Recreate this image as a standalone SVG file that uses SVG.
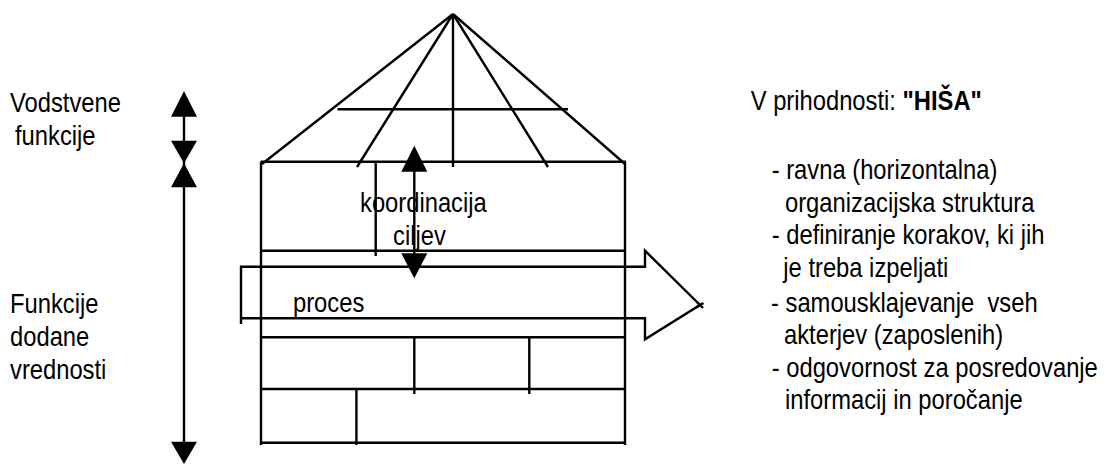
<svg xmlns="http://www.w3.org/2000/svg" width="1104" height="464" viewBox="0 0 1104 464">
<style>
.ln{fill:none;stroke:#000;stroke-width:2.4;stroke-linecap:butt;stroke-linejoin:miter}
.hd{fill:#000;stroke:none}
.t{font-family:"Liberation Sans",Arial,sans-serif;font-size:27px;fill:#000}
.b{font-weight:bold}
</style>
<rect width="1104" height="464" fill="#fff"/>
<g id="roof" class="ln">
<path d="M453,14 L262,164 M453,14 L357,167 M453,14 V167 M453,14 L548,167 M453,14 L625,164"/>
<path d="M337.5,109.3 H568"/>
</g>
<g id="building" class="ln">
<path d="M260.7,161.7 H626"/>
<path d="M261,161.7 V445 M625,161.7 V445"/>
<path d="M261,250.7 H625 M261,337.3 H625 M261,389 H625 M261,442.7 H625"/>
<path d="M375.7,161.7 V256 M414.3,337.3 V394 M529.3,337.3 V394 M356.4,389 V445"/>
</g>
<g id="process-arrow" class="ln">
<path d="M241,324 V266.7 H645 V250.7 L700,305 L645,339.3 V318.3 H241"/>
<path d="M697,302 L703,308 M696,307.5 L703.4,302.9" stroke-linejoin="round"/>
</g>
<g id="connectors">
<g id="left-arrow">
<path class="ln" d="M184,100 V455"/>
<path class="hd" d="M184,91 L197,116.7 L171,116.7 Z"/>
<path class="hd" d="M171,140.7 L197,140.7 L184,163.3 Z"/>
<path class="hd" d="M184,163.3 L197,187.3 L171,187.3 Z"/>
<path class="hd" d="M171,441.7 L197,441.7 L184,464 Z"/>
</g>
<g id="coordination-arrow">
<path class="ln" d="M414.3,160 V265"/>
<path class="hd" d="M414.3,145.7 L427.3,171.7 L401.3,171.7 Z"/>
<path class="hd" d="M401.3,253.3 L427.3,253.3 L414.3,278.3 Z"/>
</g>
</g>
<g id="labels-left">
<g id="vodstvene"><text class="t" transform="translate(10,112) scale(0.88,1)">Vodstvene</text><text class="t" transform="translate(15,144.5) scale(0.88,1)">funkcije</text></g>
<g id="funkcije"><text class="t" transform="translate(10,313) scale(0.88,1)">Funkcije</text><text class="t" transform="translate(10,346) scale(0.88,1)">dodane</text><text class="t" transform="translate(10,378.5) scale(0.88,1)">vrednosti</text></g>
</g>
<g id="labels-inner">
<text class="t" transform="translate(360,212) scale(0.88,1)">koordinacija</text>
<text class="t" transform="translate(393,245) scale(0.88,1)">ciljev</text>
<text class="t" transform="translate(293,311.7) scale(0.88,1)">proces</text>
</g>
<g id="labels-right">
<text class="t" transform="translate(750.7,110) scale(0.88,1)">V prihodnosti: <tspan class="b">"HIŠA"</tspan></text>
<text class="t" transform="translate(771.7,179.3) scale(0.88,1)">- ravna (horizontalna)</text>
<text class="t" transform="translate(785,211.7) scale(0.88,1)">organizacijska struktura</text>
<text class="t" transform="translate(771.7,244.3) scale(0.88,1)">- definiranje korakov, ki jih</text>
<text class="t" transform="translate(783.3,277) scale(0.88,1)">je treba izpeljati</text>
<text class="t" transform="translate(771,311.7) scale(0.88,1)" xml:space="preserve">- samousklajevanje  vseh</text>
<text class="t" transform="translate(784,344.3) scale(0.88,1)">akterjev (zaposlenih)</text>
<text class="t" transform="translate(771.7,376.7) scale(0.88,1)">- odgovornost za posredovanje</text>
<text class="t" transform="translate(785,409) scale(0.88,1)">informacij in poročanje</text>
</g>
</svg>
